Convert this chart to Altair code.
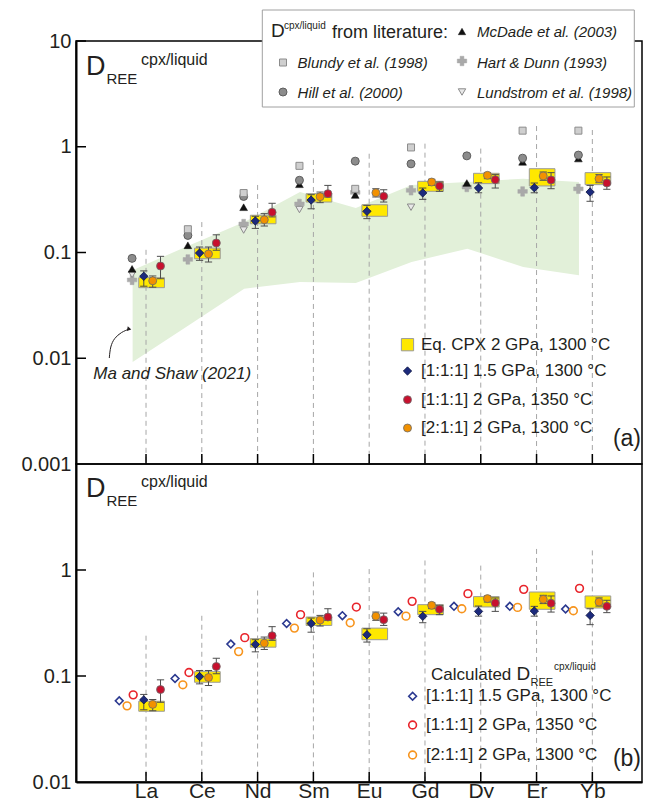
import altair as alt
import pandas as pd

FONT = "Liberation Sans"

# ---------------- data ----------------
elements = ["La", "Ce", "Nd", "Sm", "Eu", "Gd", "Dy", "Er", "Yb"]
idx = list(range(1, 10))

# literature D(cpx/liquid)
blundy = [None, 0.166, 0.365, 0.66, 0.40, 0.985, None, 1.42, 1.42]
hill = [0.088, 0.145, 0.339, 0.482, 0.731, 0.689, 0.82, 0.78, 0.834]
mcdade = [0.070, 0.117, 0.268, 0.442, 0.35, None, 0.454, 0.72, 0.774]
hart = [0.055, 0.086, 0.186, 0.288, 0.37, 0.387, 0.416, 0.378, 0.40]
lundstrom = [0.062, None, 0.163, 0.255, None, 0.268, None, None, None]

# Ma and Shaw (2021) range
band_upper = [0.068, 0.116, 0.194, 0.373, 0.264, 0.435, 0.464, 0.499, 0.464]
band_lower = [0.0092, 0.0204, 0.0455, 0.0526, 0.0515, 0.0813, 0.1087, 0.073, 0.0608]

# Eq. CPX range (yellow boxes)
eq_cpx_hi = [0.0578, 0.110, 0.225, 0.36, 0.283, 0.471, 0.561, 0.620, 0.569]
eq_cpx_lo = [0.0465, 0.0873, 0.187, 0.30, 0.220, 0.379, 0.448, 0.426, 0.438]

# experiments
exp_blue = [0.0596, 0.0988, 0.1986, 0.313, 0.245, 0.366, 0.407, 0.410, 0.373]
exp_blue_hi = [0.067, 0.1127, 0.220, 0.352, 0.279, 0.407, 0.457, 0.454, 0.431]
exp_blue_lo = [0.048, 0.0843, 0.169, 0.259, 0.209, 0.318, 0.367, 0.367, 0.305]

exp_red = [0.0745, 0.123, 0.240, 0.360, 0.340, 0.426, 0.488, 0.485, 0.454]
exp_red_hi = [0.092, 0.147, 0.292, 0.431, 0.392, 0.464, 0.545, 0.569, 0.518]
exp_red_lo = [0.0565, 0.105, 0.217, 0.335, 0.30, 0.379, 0.407, 0.401, 0.396]

exp_orange = [0.054, 0.0968, 0.204, 0.337, 0.367, 0.464, 0.537, 0.529, 0.499]
exp_orange_hi = [0.060, 0.1127, 0.233, 0.373, 0.401, 0.492, 0.569, 0.577, 0.545]
exp_orange_lo = [0.047, 0.0813, 0.178, 0.296, 0.335, 0.432, 0.499, 0.482, 0.457]

# calculated D (panel b)
calc_blue = [0.0583, 0.0947, 0.200, 0.313, 0.371, 0.404, 0.454, 0.454, 0.428]
calc_red = [0.0664, 0.108, 0.230, 0.379, 0.447, 0.506, 0.598, 0.657, 0.671]
calc_orange = [0.0523, 0.0826, 0.170, 0.283, 0.318, 0.367, 0.431, 0.444, 0.413]

# top ends of the dashed guide lines
guide_top_a = [0.106, 0.194, 0.435, 0.75, 0.859, 1.07, 0.96, 1.57, 1.44]
guide_top_b = [0.24, 0.37, 0.64, 0.95, 1.02, 1.23, 1.10, 1.58, 1.53]

# annotation arrow (data coordinates)
arrow_x = [0.342, 0.36, 0.43, 0.56, 0.70]
arrow_y = [0.01005, 0.0129, 0.0155, 0.0177, 0.0189]

# ---------------- layout ----------------
W = 566
H_A = 423
H_B = 318
X_DOM = [-0.255, 9.89]

xs = alt.Scale(domain=X_DOM, nice=False, zero=False)
ys_a = alt.Scale(type="log", domain=[0.001, 10], nice=False)
ys_b = alt.Scale(type="log", domain=[0.01, 10], nice=False)

YELLOW = "#FFE800"
BLUE = "#1c2a7c"
RED = "#c8102e"
ORANGE = "#f29100"
ERR = "#4d4d4d"

AX_COMMON = dict(ticks=False, grid=False, domainColor="black", domainWidth=2,
                 labelFont=FONT, labelColor="#231f20",
                 labelOverlap=False, title=None)

yaxis_a = alt.Axis(values=[10, 1, 0.1, 0.01, 0.001], format="~g", labelPadding=5,
                   labelFontSize=20, **AX_COMMON)
yaxis_b = alt.Axis(values=[1, 0.1, 0.01], format="~g", labelPadding=5,
                   labelFontSize=20, **AX_COMMON)
xaxis_b = alt.Axis(values=idx, labelPadding=15, labelFontSize=21, labelBaseline="alphabetic",
                   labelExpr="[" + ",".join(f"'{e}'" for e in elements) + "][datum.value - 1]",
                   **AX_COMMON)


def series_df(vals, offset, lo=None, hi=None):
    rows = []
    for i, v in enumerate(vals):
        if v is None:
            continue
        r = {"x": idx[i] + offset, "v": v}
        if lo is not None:
            r["lo"] = lo[i]
            r["hi"] = hi[i]
        rows.append(r)
    return pd.DataFrame(rows)


class Panel:
    def __init__(self, ys, yaxis, xaxis):
        self.ys = ys
        self.yaxis = yaxis
        self.xaxis = xaxis

    def X(self, field="x"):
        return alt.X(f"{field}:Q", scale=xs, axis=self.xaxis)

    def Y(self, field="v"):
        return alt.Y(f"{field}:Q", scale=self.ys, axis=self.yaxis)


def txt(s, x, y, size, align="left", baseline="alphabetic", style="normal", color="#231f20"):
    return alt.Chart(pd.DataFrame({"t": [s]})).mark_text(
        align=align, baseline=baseline, fontSize=size, font=FONT, fontStyle=style, color=color
    ).encode(x=alt.value(x), y=alt.value(y), text="t:N")


def sym(x, y, shape, size, fill, stroke, sw=1.0, filled=True):
    m = alt.Chart(pd.DataFrame({"a": [0]})).mark_point(
        shape=shape, size=size, filled=filled, fill=fill, stroke=stroke,
        strokeWidth=sw, opacity=1, fillOpacity=1)
    return m.encode(x=alt.value(x), y=alt.value(y))


def guide_layer(P, tops, H):
    df = pd.DataFrame({"x": idx, "top": tops})
    return alt.Chart(df).mark_rule(color="#a6a6a6", strokeDash=[5, 4], strokeWidth=1).encode(
        x=P.X(), y=P.Y("top"), y2=alt.value(H))


def experiment_layers(P):
    layers = []
    box = pd.DataFrame({"x1": [i - 0.13 for i in idx], "x2": [i + 0.33 for i in idx],
                        "lo": eq_cpx_lo, "hi": eq_cpx_hi})
    layers.append(alt.Chart(box).mark_rect(fill=YELLOW, stroke="#9a9a9a", strokeWidth=1).encode(
        x=P.X("x1"), x2="x2:Q", y=P.Y("lo"), y2="hi:Q"))
    specs = [
        (exp_blue, exp_blue_lo, exp_blue_hi, -0.04, "diamond", 70, BLUE, "#0c1440"),
        (exp_orange, exp_orange_lo, exp_orange_hi, 0.12, "circle", 64, ORANGE, "#6b6b6b"),
        (exp_red, exp_red_lo, exp_red_hi, 0.26, "circle", 64, RED, "#6b6b6b"),
    ]
    for vals, lo, hi, off, shape, size, fill, stroke in specs:
        df = series_df(vals, off, lo, hi)
        df["c1"] = df["x"] - 0.065
        df["c2"] = df["x"] + 0.065
        bar = alt.Chart(df).mark_rule(color=ERR, strokeWidth=1).encode(
            x=P.X(), y=P.Y("lo"), y2="hi:Q")
        cap_hi = alt.Chart(df).mark_rule(color=ERR, strokeWidth=1).encode(
            x=P.X("c1"), x2="c2:Q", y=P.Y("hi"))
        cap_lo = alt.Chart(df).mark_rule(color=ERR, strokeWidth=1).encode(
            x=P.X("c1"), x2="c2:Q", y=P.Y("lo"))
        layers += [bar, cap_hi, cap_lo]
    for vals, lo, hi, off, shape, size, fill, stroke in specs:
        df = series_df(vals, off)
        layers.append(alt.Chart(df).mark_point(
            shape=shape, size=size, filled=True, fill=fill, stroke=stroke, strokeWidth=0.8,
            opacity=1).encode(x=P.X(), y=P.Y()))
    return layers


def ticks_layers(P, values, H):
    yt = alt.Chart(pd.DataFrame({"v": values})).mark_rule(color="black", strokeWidth=1.5).encode(
        x=alt.value(0), x2=alt.value(10), y=P.Y())
    xt = alt.Chart(pd.DataFrame({"x": idx})).mark_rule(color="black", strokeWidth=1.5).encode(
        x=P.X(), y=alt.value(H), y2=alt.value(H - 10))
    return [yt, xt]


def d_label(base_y):
    return [
        txt("D", 10, base_y, 27),
        txt("REE", 30.5, base_y + 9, 15),
        txt("cpx/liquid", 65, base_y - 10, 16),
    ]


# ---------------- panel (a) ----------------
PA = Panel(ys_a, yaxis_a, None)

band_df = pd.DataFrame({"x": [i - 0.24 for i in idx], "up": band_upper, "low": band_lower})
band = alt.Chart(band_df).mark_area(color="#e2f0d9", opacity=1).encode(
    x=PA.X(), y=PA.Y("low"), y2="up:Q")

lit_specs = [
    (hart, "cross", 90, "#a9a9a9", "#a9a9a9", 0.5),
    (lundstrom, "triangle-down", 55, "#e8e8e8", "#8a8a8a", 1),
    (mcdade, "triangle-up", 60, "#111111", "#111111", 0.5),
    (hill, "circle", 64, "#8c8c8c", "#5e5e5e", 1),
    (blundy, "square", 49, "#cfcfcf", "#8c8c8c", 1),
]
lit_layers = []
for vals, shape, size, fill, stroke, sw in lit_specs:
    df = series_df(vals, -0.25)
    lit_layers.append(alt.Chart(df).mark_point(
        shape=shape, size=size, filled=True, fill=fill, stroke=stroke, strokeWidth=sw,
        opacity=1).encode(x=PA.X(), y=PA.Y()))

arrow_df = pd.DataFrame({"x": arrow_x, "v": arrow_y})
arrow = alt.Chart(arrow_df).mark_line(color="#231f20", strokeWidth=1, interpolate="basis").encode(
    x=PA.X(), y=PA.Y())
arrow_head = alt.Chart(arrow_df.tail(1)).mark_point(
    shape="triangle-right", size=22, filled=True, color="#231f20", opacity=1, angle=12).encode(
    x=PA.X(), y=PA.Y())

legend_a = [
    alt.Chart(pd.DataFrame({"a": [0]})).mark_rect(fill="white", stroke="#a0a0a0", strokeWidth=1).encode(
        x=alt.value(186.3), x2=alt.value(558.3), y=alt.value(-31), y2=alt.value(66)),
    txt("D", 195, -4, 19),
    txt("cpx/liquid", 208, -12, 10),
    txt("from literature:", 256, -3.5, 18),
    sym(386, -9.5, "triangle-up", 55, "#111111", "#111111", 0.5),
    txt("McDade et al. (2003)", 401, -9, 15, baseline="middle", style="italic"),
    sym(207, 21.5, "square", 49, "#cfcfcf", "#8c8c8c"),
    txt("Blundy et al. (1998)", 221.6, 21.5, 15, baseline="middle", style="italic"),
    sym(386, 20, "cross", 90, "#a9a9a9", "#a9a9a9", 0.5),
    txt("Hart & Dunn (1993)", 401, 21.5, 15, baseline="middle", style="italic"),
    sym(207, 51, "circle", 64, "#8c8c8c", "#5e5e5e"),
    txt("Hill et al. (2000)", 221.6, 51.5, 15, baseline="middle", style="italic"),
    sym(386, 51, "triangle-down", 55, "#e8e8e8", "#8a8a8a"),
    txt("Lundstrom et al. (1998)", 401, 51.5, 15, baseline="middle", style="italic"),
    sym(331.5, 303.7, "square", 150, YELLOW, "#9a9a9a"),
    txt("Eq. CPX 2 GPa, 1300 °C", 345, 303.7, 17, baseline="middle"),
    sym(331.5, 330, "diamond", 70, BLUE, "#0c1440", 0.8),
    txt("[1:1:1] 1.5 GPa, 1300 °C", 345, 330, 17, baseline="middle"),
    sym(331.5, 358.7, "circle", 64, RED, "#6b6b6b", 0.8),
    txt("[1:1:1] 2 GPa, 1350 °C", 345, 358.7, 17, baseline="middle"),
    sym(331.5, 387, "circle", 64, ORANGE, "#6b6b6b", 0.8),
    txt("[2:1:1] 2 GPa, 1300 °C", 345, 387, 17, baseline="middle"),
    txt("(a)", 565, 398, 23, align="right", baseline="middle"),
    txt("Ma and Shaw (2021)", 17.3, 338.3, 17, style="italic"),
]

panel_a = alt.layer(
    band, guide_layer(PA, guide_top_a, H_A), *lit_layers, *experiment_layers(PA),
    arrow, arrow_head, *ticks_layers(PA, [10, 1, 0.1, 0.01], H_A),
    *d_label(33.7), *legend_a
).properties(width=W, height=H_A)

# ---------------- panel (b) ----------------
PB = Panel(ys_b, yaxis_b, xaxis_b)

calc_layers = []
for vals, off, shape, size, col in [
    (calc_blue, -0.48, "diamond", 60, "#2b3990"),
    (calc_orange, -0.34, "circle", 60, "#f7941d"),
    (calc_red, -0.23, "circle", 60, "#e8242b"),
]:
    df = series_df(vals, off)
    calc_layers.append(alt.Chart(df).mark_point(
        shape=shape, size=size, filled=False, stroke=col, strokeWidth=1.6, opacity=1).encode(
        x=PB.X(), y=PB.Y()))

legend_b = [
    txt("Calculated", 355, 215.6, 17),
    txt("D", 440.5, 215.6, 19),
    txt("REE", 454.5, 221.5, 11),
    txt("cpx/liquid", 478, 206, 10),
    sym(336.6, 232.3, "diamond", 60, "white", "#2b3990", 1.6, filled=False),
    txt("[1:1:1] 1.5 GPa, 1300 °C", 350, 232.3, 17, baseline="middle"),
    sym(336.6, 261, "circle", 60, "white", "#e8242b", 1.6, filled=False),
    txt("[1:1:1] 2 GPa, 1350 °C", 350, 261, 17, baseline="middle"),
    sym(336.6, 291, "circle", 60, "white", "#f7941d", 1.6, filled=False),
    txt("[2:1:1] 2 GPa, 1300 °C", 350, 291, 17, baseline="middle"),
    txt("(b)", 565, 295, 23, align="right", baseline="middle"),
]

panel_b = alt.layer(
    guide_layer(PB, guide_top_b, H_B), *experiment_layers(PB), *calc_layers,
    *ticks_layers(PB, [1, 0.1], H_B), *d_label(33.3), *legend_b
).properties(width=W, height=H_B)

chart = alt.VConcatChart(vconcat=[panel_a, panel_b], spacing=0, bounds="flush").properties(
    padding={"left": 12, "top": 0, "right": 2, "bottom": 0}
).configure_view(stroke="black", strokeWidth=1.5).configure_axis(labelFont=FONT)

chart.save("out.html", embed_options={"renderer": "svg", "actions": False})
